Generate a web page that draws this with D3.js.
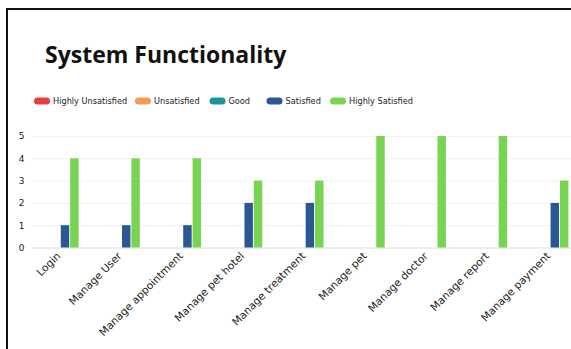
<!DOCTYPE html>
<html>
<head>
<meta charset="utf-8">
<script src="https://cdn.jsdelivr.net/npm/d3@7"></script>
<style>
  html, body { margin: 0; padding: 0; background: #fff; }
  svg { display: block; }
</style>
</head>
<body>
<svg id="chart" width="571" height="349"></svg>
<script>
// Survey results per system feature
const categories = ["Login", "Manage User", "Manage appointment", "Manage pet hotel",
  "Manage treatment", "Manage pet", "Manage doctor", "Manage report", "Manage payment"];
const seriesNames = ["Highly Unsatisfied", "Unsatisfied", "Good", "Satisfied", "Highly Satisfied"];
const seriesColors = ["#ee3b3b", "#f59a55", "#17979a", "#2b5794", "#79d452"];
const highlyUnsatisfied = [0, 0, 0, 0, 0, 0, 0, 0, 0];
const unsatisfied = [0, 0, 0, 0, 0, 0, 0, 0, 0];
const good = [0, 0, 0, 0, 0, 0, 0, 0, 0];
const satisfied = [1, 1, 1, 2, 2, 0, 0, 0, 2];
const highlySatisfied = [4, 4, 4, 3, 3, 5, 5, 5, 3];
const yTicks = [0, 1, 2, 3, 4, 5];

const seriesValues = [highlyUnsatisfied, unsatisfied, good, satisfied, highlySatisfied];

const svg = d3.select("#chart");
const W = 571, H = 349;
const titleFont = "'Open Sans', 'DejaVu Sans', sans-serif";
const font = "'DejaVu Sans', 'Open Sans', sans-serif";

svg.append("rect").attr("width", W).attr("height", H).attr("fill", "#fff");

// Frame lines
svg.append("rect").attr("x", 6).attr("y", 8).attr("width", W - 6).attr("height", 2).attr("fill", "#111");
svg.append("rect").attr("x", 6).attr("y", 8).attr("width", 2).attr("height", H - 8).attr("fill", "#111");

// Title
svg.append("text")
  .attr("x", 45).attr("y", 63)
  .attr("font-family", titleFont).attr("font-weight", 700).attr("font-size", 23)
  .attr("fill", "#111")
  .text("System Functionality");

// Legend
const legendX = [34, 135, 209.5, 266.5, 330];
const legend = svg.append("g");
seriesNames.forEach((name, i) => {
  const g = legend.append("g").attr("transform", `translate(${legendX[i]},101)`);
  g.append("rect").attr("x", 0).attr("y", -3.5).attr("width", 16).attr("height", 7)
    .attr("rx", 3.5).attr("fill", seriesColors[i]);
  g.append("text").attr("x", 19).attr("y", 0).attr("dy", "0.35em")
    .attr("font-family", font).attr("font-size", 8.2).attr("fill", "#222")
    .text(name);
});

// Scales
const x0 = d3.scaleBand().domain(categories).range([25, 576]).padding(0);
const x1 = d3.scaleBand().domain(seriesNames).range([-23, 23]).paddingInner(0.1);
const y = d3.scaleLinear().domain([0, 5]).range([247.5, 136]);

// Grid and y axis
const yAxis = svg.append("g").attr("transform", "translate(32,0)")
  .call(d3.axisLeft(y).tickValues(yTicks).tickSize(-(W - 32)).tickFormat(d3.format("d")));
yAxis.select(".domain").remove();
yAxis.selectAll(".tick line").attr("stroke", d => d === 0 ? "#dcdcdc" : "#f0f0f0");
yAxis.selectAll(".tick text")
  .attr("x", -7.5)
  .attr("font-family", font).attr("font-size", 9).attr("fill", "#222");

// Bars
const groups = svg.append("g").selectAll("g")
  .data(categories)
  .join("g")
  .attr("transform", d => `translate(${x0(d) + x0.bandwidth() / 2},0)`);

groups.selectAll("rect")
  .data((d, ci) => seriesNames.map((s, si) => ({ s, v: seriesValues[si][ci], c: seriesColors[si] })))
  .join("rect")
  .filter(d => d.v > 0)
  .attr("x", d => x1(d.s))
  .attr("width", x1.bandwidth())
  .attr("y", d => y(d.v))
  .attr("height", d => y(0) - y(d.v))
  .attr("fill", d => d.c);

// Category labels
const xAxis = svg.append("g").attr("transform", "translate(0,247.5)")
  .call(d3.axisBottom(x0).tickSize(0));
xAxis.select(".domain").remove();
xAxis.selectAll(".tick text")
  .attr("font-family", font).attr("font-size", 10.6).attr("fill", "#222")
  .attr("text-anchor", "end")
  .attr("dy", "0.35em")
  .attr("transform", "translate(3,6.5) rotate(-45)")
  .attr("x", 0).attr("y", 0);
</script>
</body>
</html>
